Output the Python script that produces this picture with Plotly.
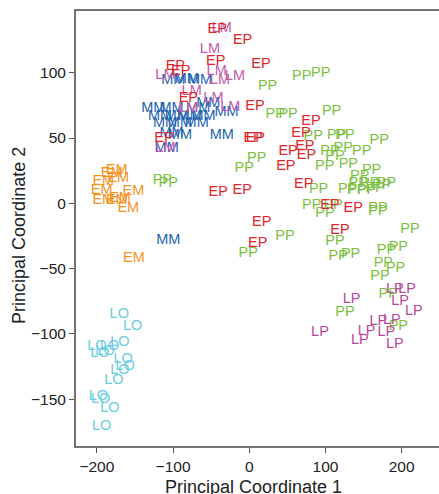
import plotly.graph_objects as go

# ---- data ----
ep_x = [-42, -8.7, -44, 15.4, -97, -90, -80, 7.5, 5, 8, -112, -40.7, -9.2, 16.3, 11, 81, 67.8, 51, 73, 75, 48, 71.5, 106, 136.5, 119]
ep_y = [133, 124.4, 109, 106.6, 105, 101, 80, 74, 50, 50, 50, 8.4, 9.7, -14.5, -31, 63, 53.6, 40, 43.3, 37, 28.5, 14.7, -1.3, -3.8, -20.4]

lm_x = [-36, -51.6, -110, -42.8, -18.8, -38.5, -75.6, -80, -47, -25, -110]
lm_y = [134, 118, 98, 101, 97.5, 94.5, 86, 72.7, 80, 73.3, 42]

mm_x = [-99.6, -82, -64.7, -53.8, -29.7, -36, -126, -102, -67, -117, -95, -78, -60, -110.6, -91, -69, -91, -102, -108.4, -106.3]
mm_y = [94.3, 95, 94.3, 76.5, 70, 52, 72.7, 72.7, 72.7, 66.3, 66.3, 66.3, 66.3, 61.2, 61.2, 61.2, 52.3, 53.5, 42, -28]

pp_x = [68.8, 93.7, 24, 34, 51, 108, 84, 114.7, 125.6, 170.6, 106, 123.4, 112.5, 147.5, 9.7, -6.6, 99, 130,
        -114, -106.3, 91, 129, 160.6, 145, 143, 158, 173.8, 180, 141, 154, 165, 169, 169, 82, 99.3, 110,
        211, 46.8, -1.3, 112.5, 116.8, 133, 180, 195.6, 176, 192, 171.5, 182.4, 125.6, 195.6]
pp_y = [97.4, 99.5, 89.2, 68, 68, 70.3, 51, 52.3, 52.3, 48.4, 39.5, 42, 35.7, 39.5, 34.4, 26.8, 28, 30,
        17.8, 15.3, 10.5, 11, 25, 20.4, 15.3, 15.3, 14, 15.3, 10.2, 10.2, 11.5, -3.8, -6.4, -1.3, -7.6, -1.3,
        -20, -25.5, -38.3, -29.4, -40.8, -38.8, -35.7, -34, -46, -49.7, -56, -70, -83.7, -94.4]

lp_x = [134.4, 191, 207, 198, 216, 169.3, 187, 154, 180, 145, 191, 92.8]
lp_y = [-73.5, -65.8, -65.8, -75.3, -83, -90.6, -89.3, -98.2, -99, -104.6, -107.7, -99]

em_x = [-174, -180.6, -191.6, -172, -193.7, -152, -191.6, -174, -169.7, -158.8, -151.3]
em_y = [25.5, 23, 16.5, 19, 10.2, 8.9, 2.5, 2.5, 3.8, -3.8, -42.4]

lo_x = [-170.6, -153, -200, -169.7, -196, -189.3, -183.3, -165.4, -163, -169.7, -177.6, -198, -195, -182.8, -193.7]
lo_y = [-84.7, -94.4, -109.5, -106.7, -114.5, -113.5, -109.7, -119.4, -124.5, -128, -135.7, -147.4, -150, -156.8, -171]

groups = [
    ("LO", lo_x, lo_y, "#6ccde1"),
    ("EM", em_x, em_y, "#f7921e"),
    ("PP", pp_x, pp_y, "#7cc142"),
    ("LP", lp_x, lp_y, "#b9499d"),
    ("MM", mm_x, mm_y, "#1d63b2"),
    ("LM", lm_x, lm_y, "#c65aab"),
    ("EP", ep_x, ep_y, "#e0262b"),
]

x_ticks = [-200, -100, 0, 100, 200]
y_ticks = [-150, -100, -50, 0, 50, 100]

FONT = "Liberation Sans, Arial, Helvetica, sans-serif"

fig = go.Figure()
for name, xs, ys, col in groups:
    fig.add_trace(go.Scatter(
        x=xs, y=ys, mode="text", text=[name] * len(xs),
        textposition="middle center",
        textfont=dict(family=FONT, size=14.5, color=col),
        showlegend=False, hoverinfo="skip",
    ))

fig.update_layout(
    width=439, height=494,
    margin=dict(l=75, r=0, t=10, b=47),
    paper_bgcolor="white", plot_bgcolor="white",
    font=dict(family=FONT, color="#222"),
    xaxis=dict(range=[-228.7, 249], tickvals=x_ticks, ticks="outside", ticklen=5,
               tickcolor="#555", tickfont=dict(size=15.5, color="#222"),
               showgrid=False, zeroline=False, showline=False),
    yaxis=dict(range=[-186.5, 148], tickvals=y_ticks, ticks="outside", ticklen=5,
               tickcolor="#555", tickfont=dict(size=15.5, color="#222"),
               showgrid=False, zeroline=False, showline=False),
    shapes=[dict(type="rect", xref="paper", yref="paper", x0=0, y0=0, x1=1.05, y1=1,
                 line=dict(color="#444", width=1.5), fillcolor="rgba(0,0,0,0)", layer="above")],
    annotations=[
        dict(text="Principal Coordinate 1", xref="paper", yref="paper", x=0.49, y=0,
             yshift=-40, xanchor="center", yanchor="middle", showarrow=False,
             font=dict(size=18, color="#222")),
        dict(text="Principal Coordinate 2", xref="paper", yref="paper", x=0, xshift=-56,
             y=0.483, xanchor="center", yanchor="middle", textangle=-90, showarrow=False,
             font=dict(size=18, color="#222")),
    ],
)

fig.write_html("out.html")
